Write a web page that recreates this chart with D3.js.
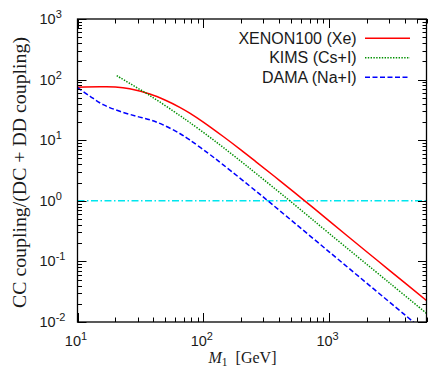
<!DOCTYPE html>
<html>
<head>
<meta charset="utf-8">
<script src="https://cdn.jsdelivr.net/npm/d3@7"></script>
<style>
  body { margin: 0; background: #fff; }
  svg { display: block; }
  text { fill: #1a1a1a; }
</style>
</head>
<body>
<svg width="428" height="372"></svg>
<script>
const width = 428, height = 372;
const margin = {left: 77.5, right: 1, top: 19, bottom: 50};
const svg = d3.select("svg");

// curves (M1 in GeV, ratio)
const xenonMass  = [10, 15, 20, 26, 37.6, 50, 65, 78, 100, 144, 200, 264, 400, 640, 1000, 2000, 3000, 6000];
const xenonRatio = [75, 76, 75.5, 70.6, 57.7, 45.6, 34.9, 28, 19.9, 11.5, 6.86, 4.36, 2.2, 1.0, 0.465, 0.143, 0.072, 0.0222];

const kimsMass  = [20.5, 37.6, 65, 78, 109, 144, 200, 264, 487, 1000, 3000, 6000];
const kimsRatio = [116, 54.5, 25.6, 19.6, 11.8, 7.6, 4.45, 2.8, 1.0, 0.29, 0.0446, 0.0137];

const damaMass  = [10, 12.6, 16, 21.7, 29.5, 37.6, 47.9, 65, 78, 109, 144, 264, 326, 1000, 4680, 6000];
const damaRatio = [74, 53, 38.6, 30, 24.8, 21.7, 17.9, 12.9, 10.1, 6.12, 3.92, 1.43, 1.0, 0.144, 0.01, 0.0065];

const refLevel = [1];

const series = [
  {name: "XENON100 (Xe)", mass: xenonMass, ratio: xenonRatio, color: "#ff0000", dash: null},
  {name: "KIMS (Cs+I)",   mass: kimsMass,  ratio: kimsRatio,  color: "#009000", dash: "1.4,1.4"},
  {name: "DAMA (Na+I)",   mass: damaMass,  ratio: damaRatio,  color: "#0000ff", dash: "5,2.5"}
];

const xTicks = [10, 100, 1000];
const yTicks = [0.01, 0.1, 1, 10, 100, 1000];

const x = d3.scaleLog().domain([10, 6000]).range([margin.left, width - margin.right]);
const y = d3.scaleLog().domain([0.01, 1000]).range([height - margin.bottom, margin.top]);

const x0 = x.range()[0], x1 = x.range()[1];
const y0 = y.range()[0], y1 = y.range()[1];

svg.append("clipPath").attr("id", "plot")
  .append("rect").attr("x", x0).attr("y", y1).attr("width", x1 - x0).attr("height", y0 - y1);

// reference line at 1
svg.append("g").attr("clip-path", "url(#plot)")
  .selectAll("line").data(refLevel).join("line")
  .attr("x1", x0).attr("x2", x1)
  .attr("y1", d => y(d)).attr("y2", d => y(d))
  .attr("stroke", "#00e6ee").attr("stroke-width", 1.4)
  .attr("stroke-dasharray", "7,2.5,1.5,2.5");

// curves, smoothed in log-log space
const line = d3.line()
  .x(d => x(d[0]))
  .y(d => y(d[1]))
  .curve(d3.curveCatmullRom.alpha(0.5));

svg.append("g").attr("clip-path", "url(#plot)")
  .selectAll("path").data(series).join("path")
  .attr("d", s => line(s.mass.map((m, i) => [m, s.ratio[i]])))
  .attr("fill", "none")
  .attr("stroke", s => s.color)
  .attr("stroke-width", 1.5)
  .attr("stroke-dasharray", s => s.dash);

// ticks (inside, on all four sides)
const minorX = [];
for (let e = 1; e <= 3; e++) for (let k = 2; k <= 9; k++) {
  const v = k * Math.pow(10, e);
  if (v <= 6000) minorX.push(v);
}
const minorY = [];
for (let e = -2; e <= 2; e++) for (let k = 2; k <= 9; k++) minorY.push(k * Math.pow(10, e));

const tk = svg.append("g").attr("stroke", "#000").attr("stroke-width", 1);
const majorLen = 9, minorLen = 4.5;
xTicks.forEach(v => {
  const px = Math.round(x(v)) + 0.5;
  tk.append("line").attr("x1", px).attr("x2", px).attr("y1", y0).attr("y2", y0 - majorLen);
  tk.append("line").attr("x1", px).attr("x2", px).attr("y1", y1).attr("y2", y1 + majorLen);
});
minorX.forEach(v => {
  const px = Math.round(x(v)) + 0.5;
  tk.append("line").attr("x1", px).attr("x2", px).attr("y1", y0).attr("y2", y0 - minorLen);
  tk.append("line").attr("x1", px).attr("x2", px).attr("y1", y1).attr("y2", y1 + minorLen);
});
yTicks.forEach(v => {
  const py = Math.round(y(v)) + 0.5;
  tk.append("line").attr("x1", x0).attr("x2", x0 + majorLen).attr("y1", py).attr("y2", py);
  tk.append("line").attr("x1", x1).attr("x2", x1 - majorLen).attr("y1", py).attr("y2", py);
});
minorY.forEach(v => {
  const py = Math.round(y(v)) + 0.5;
  tk.append("line").attr("x1", x0).attr("x2", x0 + minorLen).attr("y1", py).attr("y2", py);
  tk.append("line").attr("x1", x1).attr("x2", x1 - minorLen).attr("y1", py).attr("y2", py);
});

// frame
svg.append("rect")
  .attr("x", x0).attr("y", y1).attr("width", x1 - x0 - 0.5).attr("height", y0 - y1)
  .attr("fill", "none").attr("stroke", "#000").attr("stroke-width", 1.3);

// tick labels
const sans = "'Liberation Sans', Arial, sans-serif";
function powLabel(sel, v) {
  const e = Math.round(Math.log10(v));
  sel.append("tspan").text("10");
  sel.append("tspan").attr("font-size", 11).attr("dy", -6).text(e);
}
xTicks.forEach(v => {
  const t = svg.append("text")
    .attr("x", x(v) - 1.5).attr("y", 346)
    .attr("text-anchor", "middle")
    .attr("font-family", sans).attr("font-size", 14.5);
  powLabel(t, v);
});
yTicks.forEach(v => {
  const t = svg.append("text")
    .attr("x", 39.5).attr("y", y(v) + 5)
    .attr("font-family", sans).attr("font-size", 14.5);
  powLabel(t, v);
});

// axis titles
const serif = "'Liberation Serif', 'Times New Roman', serif";
svg.append("text")
  .attr("transform", "translate(26,172.5) rotate(-90)")
  .attr("text-anchor", "middle")
  .attr("font-family", serif).attr("font-size", 18)
  .attr("textLength", 271).attr("lengthAdjust", "spacingAndGlyphs")
  .text("CC coupling/(DC + DD coupling)");

const xl = svg.append("text")
  .attr("x", 242.5).attr("y", 363.3)
  .attr("text-anchor", "middle")
  .attr("font-family", serif).attr("font-size", 16);
xl.append("tspan").attr("font-style", "italic").text("M");
xl.append("tspan").attr("font-size", 11.5).attr("dy", 3).text("1");
xl.append("tspan").attr("dy", -3).text("\u2002[GeV]");

// legend
const legend = svg.append("g");
series.forEach((s, i) => {
  const ly = 38.3 + 19.5 * i;
  legend.append("text")
    .attr("x", 356.7).attr("y", ly + 5.5)
    .attr("text-anchor", "end")
    .attr("font-family", sans).attr("font-size", 16)
    .text(s.name);
  legend.append("line")
    .attr("x1", 365).attr("x2", 410).attr("y1", ly).attr("y2", ly)
    .attr("stroke", s.color).attr("stroke-width", 1.5)
    .attr("stroke-dasharray", s.dash);
});
</script>
</body>
</html>
